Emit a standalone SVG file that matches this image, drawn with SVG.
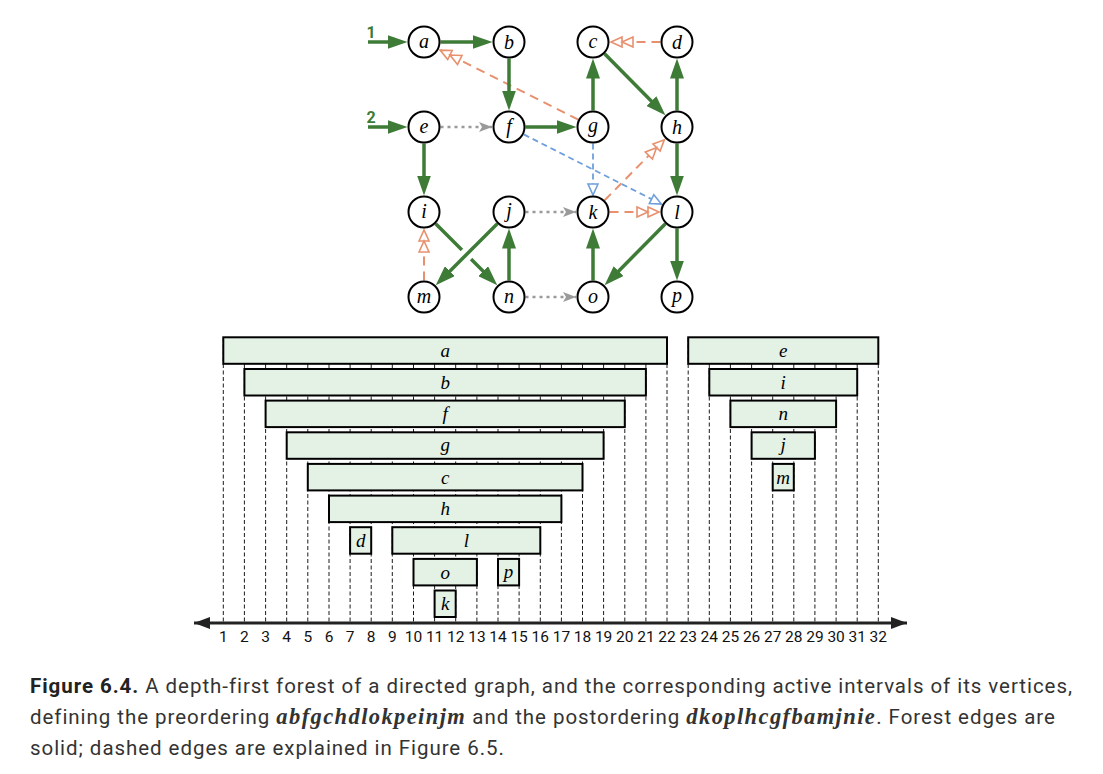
<svg xmlns="http://www.w3.org/2000/svg" width="1103" height="774" viewBox="0 0 1103 774">
<style>
.nc{fill:#fff;stroke:#000;stroke-width:2}
.nl{font-family:"Liberation Serif","DejaVu Serif",serif;font-style:italic;font-size:20px;text-anchor:middle;fill:#000}
.ge{stroke:#3e7b37;stroke-width:3.5;fill:none}
.oe{stroke:#e8906e;stroke-width:2;stroke-dasharray:9,6;fill:none}
.be{stroke:#6e9fdc;stroke-width:1.8;stroke-dasharray:6,4;fill:none}
.de{stroke:#9a9a9a;stroke-width:2.4;stroke-dasharray:3,4;fill:none}
.bar{fill:#e4f1e5;stroke:#000;stroke-width:2}
.bl{font-family:"Liberation Serif","DejaVu Serif",serif;font-style:italic;font-size:19px;text-anchor:middle;fill:#000}
.vl{stroke:#000;stroke-width:0.9;stroke-dasharray:4,2.5}
.num{font-family:Roboto,"Liberation Sans",sans-serif;font-size:15.5px;text-anchor:middle;fill:#111}
.cap{font-family:Roboto,"Liberation Sans",sans-serif;font-size:20.5px;letter-spacing:0.95px;fill:#333}
.capi{font-family:"Liberation Serif","DejaVu Serif",serif;font-style:italic;font-weight:bold;font-size:22.5px;letter-spacing:1.4px}
.lbl{font-family:Roboto,"Liberation Sans",sans-serif;font-weight:bold;font-size:16px;fill:#3e7b37;text-anchor:middle}
</style>
<defs>
<marker id="ag" viewBox="0 0 20 14" refX="10" refY="7" markerWidth="20" markerHeight="14" markerUnits="userSpaceOnUse" orient="auto"><path d="M0,0 L20,7 L0,14 z" fill="#3e7b37"/></marker>
<marker id="ao" viewBox="-2 -2 26 14" refX="22" refY="5" markerWidth="26" markerHeight="14" markerUnits="userSpaceOnUse" orient="auto" overflow="visible"><path d="M0,0 L11,5 L0,10 z M11,0 L22,5 L11,10 z" fill="#fff" stroke="#e8906e" stroke-width="1.6" stroke-linejoin="miter"/></marker>
<marker id="ab" viewBox="-2 -2 15 14" refX="11" refY="5" markerWidth="15" markerHeight="14" markerUnits="userSpaceOnUse" orient="auto" overflow="visible"><path d="M0,0 L11,5 L0,10 z" fill="#fff" stroke="#6e9fdc" stroke-width="1.6"/></marker>
<marker id="ad" viewBox="0 0 13 10" refX="13" refY="5" markerWidth="13" markerHeight="10" markerUnits="userSpaceOnUse" orient="auto"><path d="M0,0 L13,5 L0,10 L3,5 z" fill="#9a9a9a"/></marker>
<marker id="axl" viewBox="0 0 16 12" refX="0" refY="6" markerWidth="16" markerHeight="12" markerUnits="userSpaceOnUse" orient="auto"><path d="M0,6 L16,0 L16,12 z" fill="#222"/></marker>
<marker id="axr" viewBox="0 0 16 12" refX="16" refY="6" markerWidth="16" markerHeight="12" markerUnits="userSpaceOnUse" orient="auto"><path d="M0,0 L16,6 L0,12 z" fill="#222"/></marker>
</defs>

<g id="connectors">
<line class="de" x1="440.5" y1="127" x2="492" y2="127" marker-end="url(#ad)"/>
<line class="de" x1="525.5" y1="212" x2="576" y2="212" marker-end="url(#ad)"/>
<line class="de" x1="525.5" y1="297" x2="576" y2="297" marker-end="url(#ad)"/>
<line class="be" x1="523.7" y1="134.4" x2="661.4" y2="204.1" marker-end="url(#ab)"/>
<line class="be" x1="593" y1="143.5" x2="593" y2="195" marker-end="url(#ab)"/>
<line class="oe" x1="660.5" y1="42" x2="611" y2="42" marker-end="url(#ao)"/>
<line class="oe" x1="578.3" y1="119.6" x2="440.1" y2="50.1" marker-end="url(#ao)"/>
<line class="oe" x1="424" y1="280.5" x2="424" y2="230" marker-end="url(#ao)"/>
<line class="oe" x1="609.5" y1="212" x2="659" y2="212" marker-end="url(#ao)"/>
<line class="oe" x1="604.6" y1="200.3" x2="664.3" y2="139.8" marker-end="url(#ao)"/>
<text class="lbl" x="371" y="38">1</text>
<text class="lbl" x="371" y="123">2</text>
<line class="ge" x1="368" y1="42" x2="397.5" y2="42" marker-end="url(#ag)"/>
<line class="ge" x1="368" y1="127" x2="397.5" y2="127" marker-end="url(#ag)"/>
<line class="ge" x1="440.5" y1="42" x2="482.5" y2="42" marker-end="url(#ag)"/>
<line class="ge" x1="509" y1="58.5" x2="509" y2="100.5" marker-end="url(#ag)"/>
<line class="ge" x1="525.5" y1="127" x2="566.5" y2="127" marker-end="url(#ag)"/>
<line class="ge" x1="593" y1="110.5" x2="593" y2="68.5" marker-end="url(#ag)"/>
<line class="ge" x1="604.6" y1="53.7" x2="658.4" y2="108.2" marker-end="url(#ag)"/>
<line class="ge" x1="677" y1="110.5" x2="677" y2="68.5" marker-end="url(#ag)"/>
<line class="ge" x1="677" y1="143.5" x2="677" y2="185.5" marker-end="url(#ag)"/>
<line class="ge" x1="424" y1="143.5" x2="424" y2="185.5" marker-end="url(#ag)"/>
<line class="ge" x1="435.7" y1="223.7" x2="490.2" y2="278.2" marker-end="url(#ag)"/>
<line x1="472" y1="249" x2="461" y2="260" stroke="#fff" stroke-width="13"/>
<line class="ge" x1="497.3" y1="223.7" x2="442.8" y2="278.2" marker-end="url(#ag)"/>
<line class="ge" x1="509" y1="280.5" x2="509" y2="238.5" marker-end="url(#ag)"/>
<line class="ge" x1="665.4" y1="223.7" x2="611.6" y2="278.2" marker-end="url(#ag)"/>
<line class="ge" x1="677" y1="228.5" x2="677" y2="270.5" marker-end="url(#ag)"/>
<line class="ge" x1="593" y1="280.5" x2="593" y2="238.5" marker-end="url(#ag)"/>
</g>

<g id="node-a"><circle class="nc" cx="424" cy="42" r="15.5"/><text class="nl" x="424" y="48">a</text></g>
<g id="node-b"><circle class="nc" cx="509" cy="42" r="15.5"/><text class="nl" x="509" y="48.5">b</text></g>
<g id="node-c"><circle class="nc" cx="593" cy="42" r="15.5"/><text class="nl" x="593" y="48">c</text></g>
<g id="node-d"><circle class="nc" cx="677" cy="42" r="15.5"/><text class="nl" x="677" y="48.5">d</text></g>
<g id="node-e"><circle class="nc" cx="424" cy="127" r="15.5"/><text class="nl" x="424" y="133">e</text></g>
<g id="node-f"><circle class="nc" cx="509" cy="127" r="15.5"/><text class="nl" x="509" y="133">f</text></g>
<g id="node-g"><circle class="nc" cx="593" cy="127" r="15.5"/><text class="nl" x="593" y="131.5">g</text></g>
<g id="node-h"><circle class="nc" cx="677" cy="127" r="15.5"/><text class="nl" x="677" y="133.5">h</text></g>
<g id="node-i"><circle class="nc" cx="424" cy="212" r="15.5"/><text class="nl" x="424" y="218">i</text></g>
<g id="node-j"><circle class="nc" cx="509" cy="212" r="15.5"/><text class="nl" x="509" y="217">j</text></g>
<g id="node-k"><circle class="nc" cx="593" cy="212" r="15.5"/><text class="nl" x="593" y="218.5">k</text></g>
<g id="node-l"><circle class="nc" cx="677" cy="212" r="15.5"/><text class="nl" x="677" y="218.5">l</text></g>
<g id="node-m"><circle class="nc" cx="424" cy="297" r="15.5"/><text class="nl" x="424" y="303">m</text></g>
<g id="node-n"><circle class="nc" cx="509" cy="297" r="15.5"/><text class="nl" x="509" y="303">n</text></g>
<g id="node-o"><circle class="nc" cx="593" cy="297" r="15.5"/><text class="nl" x="593" y="303">o</text></g>
<g id="node-p"><circle class="nc" cx="677" cy="297" r="15.5"/><text class="nl" x="677" y="302">p</text></g>

<g id="gridlines">
<line class="vl" x1="223.3" y1="338" x2="223.3" y2="622"/>
<line class="vl" x1="244.4" y1="338" x2="244.4" y2="622"/>
<line class="vl" x1="265.6" y1="338" x2="265.6" y2="622"/>
<line class="vl" x1="286.7" y1="338" x2="286.7" y2="622"/>
<line class="vl" x1="307.8" y1="338" x2="307.8" y2="622"/>
<line class="vl" x1="329.0" y1="338" x2="329.0" y2="622"/>
<line class="vl" x1="350.1" y1="338" x2="350.1" y2="622"/>
<line class="vl" x1="371.2" y1="338" x2="371.2" y2="622"/>
<line class="vl" x1="392.3" y1="338" x2="392.3" y2="622"/>
<line class="vl" x1="413.5" y1="338" x2="413.5" y2="622"/>
<line class="vl" x1="434.6" y1="338" x2="434.6" y2="622"/>
<line class="vl" x1="455.7" y1="338" x2="455.7" y2="622"/>
<line class="vl" x1="476.9" y1="338" x2="476.9" y2="622"/>
<line class="vl" x1="498.0" y1="338" x2="498.0" y2="622"/>
<line class="vl" x1="519.1" y1="338" x2="519.1" y2="622"/>
<line class="vl" x1="540.3" y1="338" x2="540.3" y2="622"/>
<line class="vl" x1="561.4" y1="338" x2="561.4" y2="622"/>
<line class="vl" x1="582.5" y1="338" x2="582.5" y2="622"/>
<line class="vl" x1="603.6" y1="338" x2="603.6" y2="622"/>
<line class="vl" x1="624.8" y1="338" x2="624.8" y2="622"/>
<line class="vl" x1="645.9" y1="338" x2="645.9" y2="622"/>
<line class="vl" x1="667.0" y1="338" x2="667.0" y2="622"/>
<line class="vl" x1="688.2" y1="338" x2="688.2" y2="622"/>
<line class="vl" x1="709.3" y1="338" x2="709.3" y2="622"/>
<line class="vl" x1="730.4" y1="338" x2="730.4" y2="622"/>
<line class="vl" x1="751.6" y1="338" x2="751.6" y2="622"/>
<line class="vl" x1="772.7" y1="338" x2="772.7" y2="622"/>
<line class="vl" x1="793.8" y1="338" x2="793.8" y2="622"/>
<line class="vl" x1="814.9" y1="338" x2="814.9" y2="622"/>
<line class="vl" x1="836.1" y1="338" x2="836.1" y2="622"/>
<line class="vl" x1="857.2" y1="338" x2="857.2" y2="622"/>
<line class="vl" x1="878.3" y1="338" x2="878.3" y2="622"/>
</g>

<g id="interval-a"><rect class="bar" x="223.3" y="337.3" width="443.7" height="26.5"/><text class="bl" x="445.2" y="357">a</text></g>
<g id="interval-b"><rect class="bar" x="244.4" y="369" width="401.5" height="26.5"/><text class="bl" x="445.2" y="388.7">b</text></g>
<g id="interval-f"><rect class="bar" x="265.6" y="400.6" width="359.2" height="26.5"/><text class="bl" x="445.2" y="420.3">f</text></g>
<g id="interval-g"><rect class="bar" x="286.7" y="432.3" width="316.9" height="26.5"/><text class="bl" x="445.2" y="450.5">g</text></g>
<g id="interval-c"><rect class="bar" x="307.8" y="463.9" width="274.7" height="26.5"/><text class="bl" x="445.2" y="483.6">c</text></g>
<g id="interval-h"><rect class="bar" x="329.0" y="495.6" width="232.4" height="26.5"/><text class="bl" x="445.2" y="515.3">h</text></g>
<g id="interval-d"><rect class="bar" x="350.1" y="527.2" width="21.1" height="26.5"/><text class="bl" x="360.7" y="546.9">d</text></g>
<g id="interval-l"><rect class="bar" x="392.3" y="527.2" width="148" height="26.5"/><text class="bl" x="466.3" y="546.9">l</text></g>
<g id="interval-o"><rect class="bar" x="413.5" y="558.9" width="63.4" height="26.5"/><text class="bl" x="445.2" y="578.6">o</text></g>
<g id="interval-p"><rect class="bar" x="498.0" y="558.9" width="21.1" height="26.5"/><text class="bl" x="508.6" y="577.6">p</text></g>
<g id="interval-k"><rect class="bar" x="434.6" y="590.5" width="21.1" height="26.5"/><text class="bl" x="445.2" y="610.2">k</text></g>
<g id="interval-e"><rect class="bar" x="688.2" y="337.3" width="190.1" height="26.5"/><text class="bl" x="783.2" y="357">e</text></g>
<g id="interval-i"><rect class="bar" x="709.3" y="369" width="147.9" height="26.5"/><text class="bl" x="783.2" y="388.7">i</text></g>
<g id="interval-n"><rect class="bar" x="730.4" y="400.6" width="105.7" height="26.5"/><text class="bl" x="783.2" y="420.3">n</text></g>
<g id="interval-j"><rect class="bar" x="751.6" y="432.3" width="63.3" height="26.5"/><text class="bl" x="783.2" y="451">j</text></g>
<g id="interval-m"><rect class="bar" x="772.7" y="463.9" width="21.1" height="26.5"/><text class="bl" x="783.2" y="483.6">m</text></g>

<g id="axis">
<line x1="194" y1="623" x2="907" y2="623" stroke="#222" stroke-width="3" marker-start="url(#axl)" marker-end="url(#axr)"/>
<text class="num" x="223.3" y="641.5">1</text>
<text class="num" x="244.4" y="641.5">2</text>
<text class="num" x="265.6" y="641.5">3</text>
<text class="num" x="286.7" y="641.5">4</text>
<text class="num" x="307.8" y="641.5">5</text>
<text class="num" x="329.0" y="641.5">6</text>
<text class="num" x="350.1" y="641.5">7</text>
<text class="num" x="371.2" y="641.5">8</text>
<text class="num" x="392.3" y="641.5">9</text>
<text class="num" x="413.5" y="641.5">10</text>
<text class="num" x="434.6" y="641.5">11</text>
<text class="num" x="455.7" y="641.5">12</text>
<text class="num" x="476.9" y="641.5">13</text>
<text class="num" x="498.0" y="641.5">14</text>
<text class="num" x="519.1" y="641.5">15</text>
<text class="num" x="540.3" y="641.5">16</text>
<text class="num" x="561.4" y="641.5">17</text>
<text class="num" x="582.5" y="641.5">18</text>
<text class="num" x="603.6" y="641.5">19</text>
<text class="num" x="624.8" y="641.5">20</text>
<text class="num" x="645.9" y="641.5">21</text>
<text class="num" x="667.0" y="641.5">22</text>
<text class="num" x="688.2" y="641.5">23</text>
<text class="num" x="709.3" y="641.5">24</text>
<text class="num" x="730.4" y="641.5">25</text>
<text class="num" x="751.6" y="641.5">26</text>
<text class="num" x="772.7" y="641.5">27</text>
<text class="num" x="793.8" y="641.5">28</text>
<text class="num" x="814.9" y="641.5">29</text>
<text class="num" x="836.1" y="641.5">30</text>
<text class="num" x="857.2" y="641.5">31</text>
<text class="num" x="878.3" y="641.5">32</text>
</g>

<g id="caption">
<text class="cap" x="30" y="693"><tspan font-weight="bold" fill="#222">Figure 6.4.</tspan> A depth-first forest of a directed graph, and the corresponding active intervals of its vertices,</text>
<text class="cap" x="30" y="724">defining the preordering <tspan class="capi">abfgchdlokpeinjm</tspan> and the postordering <tspan class="capi">dkoplhcgfbamjnie</tspan>. Forest edges are</text>
<text class="cap" x="30" y="755">solid; dashed edges are explained in Figure 6.5.</text>
</g>
</svg>
